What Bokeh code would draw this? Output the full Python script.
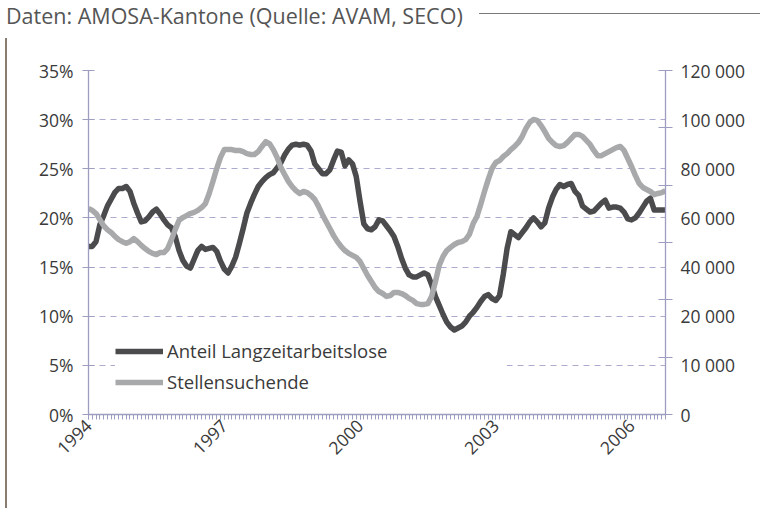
import math
from bokeh.plotting import figure
from bokeh.models import (Range1d, LinearAxis, FixedTicker, Legend, LegendItem, Div)
from bokeh.layouts import column, row
from bokeh.embed import file_html
from bokeh.resources import INLINE

# ---- data (monthly, Jan 1994 .. Oct 2006) ----
start_year = 1994
anteil_langzeit = [
    17.1, 17.1, 17.6, 19.3, 20.2, 21.2, 21.9, 22.6, 23.0, 23.0, 23.2, 22.7,
    21.5, 20.5, 19.6, 19.7, 20.1, 20.6, 20.9, 20.4, 19.8, 19.3, 19.0, 18.1,
    16.7, 15.7, 15.1, 14.9, 15.8, 16.7, 17.1, 16.8, 16.9, 17.0, 16.6, 15.6,
    14.8, 14.4, 15.1, 16.0, 17.4, 18.9, 20.5, 21.5, 22.4, 23.2, 23.7, 24.1,
    24.4, 24.6, 25.1, 25.6, 26.4, 27.0, 27.4, 27.5, 27.4, 27.5, 27.4, 26.8,
    25.5, 25.0, 24.5, 24.5, 24.9, 25.9, 26.8, 26.7, 25.3, 25.9, 25.5, 24.2,
    21.7, 19.4, 18.9, 18.8, 19.1, 19.8, 19.7, 19.2, 18.7, 18.1, 17.1, 15.9,
    14.9, 14.2, 14.0, 14.0, 14.2, 14.4, 14.2, 13.2, 12.0, 11.1, 10.2, 9.4,
    8.9, 8.6, 8.8, 9.0, 9.4, 10.0, 10.4, 10.9, 11.5, 12.0, 12.2, 11.8,
    11.6, 12.1, 14.3, 16.9, 18.6, 18.3, 18.0, 18.5, 19.0, 19.6, 20.0, 19.6,
    19.1, 19.5, 21.0, 22.1, 22.9, 23.4, 23.2, 23.4, 23.5, 22.7, 22.3, 21.2,
    20.9, 20.6, 20.7, 21.1, 21.5, 21.8, 21.0, 21.1, 21.1, 21.0, 20.6, 19.9,
    19.8, 20.0, 20.5, 21.1, 21.7, 22.0, 20.8, 20.8, 20.8, 20.8,
]
stellensuchende = [
    71900, 71200, 70100, 68000, 65900, 64500, 63500, 62100, 61000, 60300, 59700, 60300,
    61400, 60300, 59000, 57900, 56900, 56200, 55800, 56500, 56500, 57900, 61000, 64500,
    67700, 68700, 69400, 70100, 70500, 71200, 72200, 73600, 77100, 81300, 85800, 89700,
    92400, 92400, 92400, 92100, 92100, 91700, 91000, 90700, 90700, 91700, 93500, 95200,
    94500, 92400, 89700, 86200, 83700, 81300, 79500, 78100, 77100, 77800, 77400, 76400,
    75000, 72600, 69800, 67300, 64900, 62400, 60300, 58600, 57200, 56200, 55500, 54800,
    53400, 50900, 48500, 46400, 44300, 42900, 42200, 41200, 41500, 42600, 42600, 42200,
    41500, 40500, 39800, 38700, 38400, 38400, 38700, 41200, 46400, 52000, 55100, 57200,
    58300, 59300, 60000, 60300, 61000, 62800, 66600, 69100, 73300, 77800, 82000, 85800,
    87900, 88600, 90000, 91000, 92400, 93500, 94900, 97000, 99800, 101900, 102900, 102600,
    100800, 98700, 96300, 94900, 93800, 93500, 93800, 94900, 96300, 97700, 97700, 97000,
    95600, 94200, 92100, 90300, 90300, 91000, 91700, 92400, 93100, 93500, 92100, 89300,
    86500, 83400, 80600, 79200, 78500, 77800, 76700, 77100, 77400, 78100,
]
months = [start_year + i / 12 for i in range(len(anteil_langzeit))]

year_ticks = [1994, 1997, 2000, 2003, 2006]
pct_ticks = [0, 5, 10, 15, 20, 25, 30, 35]
right_labels = ["0", "10 000", "20 000", "40 000", "60 000", "80 000", "100 000", "120 000"]
right_tick_marks = [0, 20000, 40000, 60000, 80000, 100000, 120000]
series_names = ["Anteil Langzeitarbeitslose", "Stellensuchende"]
title_text = "Daten: AMOSA-Kantone (Quelle: AVAM, SECO)"

# ---- styles ----
FONT = "Open Sans"
TXT = "#3a3a3a"
AX = "#9d9dbf"
GRID = "#ababcf"
DARK = "#4b4b4d"
LIGHT = "#a8a9ab"
TICK_FS = "17.5px"

right_max = 120000
right_label_pos = [i * right_max / 7 for i in range(8)]

p = figure(width=753, height=477, output_backend="svg", toolbar_location=None,
           x_range=Range1d(months[0], months[-1]), y_range=Range1d(0, 35),
           min_border_left=76, min_border_right=100, min_border_top=37, min_border_bottom=96,
           x_axis_location=None, y_axis_location=None)
p.outline_line_color = None
p.background_fill_color = "white"
p.extra_y_ranges = {"right": Range1d(0, right_max)}

# left axis
yaxis = LinearAxis(ticker=FixedTicker(ticks=pct_ticks))
yaxis.major_label_overrides = {t: f"{t}%" for t in pct_ticks}
yaxis.axis_line_color = AX
yaxis.axis_line_width = 1.3
yaxis.major_tick_line_color = AX
yaxis.major_tick_in = 6
yaxis.major_tick_out = 6
yaxis.minor_tick_line_color = None
yaxis.major_label_text_font = FONT
yaxis.major_label_text_font_size = TICK_FS
yaxis.major_label_text_color = TXT
yaxis.major_label_standoff = 9
p.add_layout(yaxis, "left")

# right axis
raxis = LinearAxis(y_range_name="right",
                   ticker=FixedTicker(ticks=right_label_pos, minor_ticks=right_tick_marks))
raxis.major_label_overrides = {pos: lab for pos, lab in zip(right_label_pos, right_labels)}
raxis.axis_line_color = AX
raxis.axis_line_width = 1.3
raxis.major_tick_line_color = None
raxis.major_tick_in = 0
raxis.major_tick_out = 0
raxis.minor_tick_line_color = AX
raxis.minor_tick_in = 7
raxis.minor_tick_out = 7
raxis.major_label_text_font = FONT
raxis.major_label_text_font_size = TICK_FS
raxis.major_label_text_color = TXT
raxis.major_label_standoff = 8
p.add_layout(raxis, "right")

# bottom axis
xaxis = LinearAxis(ticker=FixedTicker(ticks=year_ticks, minor_ticks=months))
xaxis.major_label_overrides = {y: str(y) for y in year_ticks}
xaxis.axis_line_color = AX
xaxis.axis_line_width = 1.3
xaxis.major_tick_line_color = AX
xaxis.major_tick_in = 0
xaxis.major_tick_out = 5
xaxis.minor_tick_line_color = AX
xaxis.minor_tick_in = 0
xaxis.minor_tick_out = 5
xaxis.major_label_orientation = math.pi / 4
xaxis.major_label_text_font = FONT
xaxis.major_label_text_font_size = TICK_FS
xaxis.major_label_text_color = TXT
xaxis.major_label_standoff = 3
p.add_layout(xaxis, "below")

p.xgrid.visible = False
p.ygrid.ticker = FixedTicker(ticks=pct_ticks)
p.ygrid.grid_line_color = GRID
p.ygrid.grid_line_dash = "6 5"
p.ygrid.grid_line_width = 1

r1 = p.line(months, anteil_langzeit, line_color=DARK, line_width=5.5, line_join="round")
r2 = p.line(months, stellensuchende, y_range_name="right", line_color=LIGHT,
            line_width=5.5, line_join="round")

legend = Legend(items=[LegendItem(label=series_names[0], renderers=[r1]),
                       LegendItem(label=series_names[1], renderers=[r2])],
                location=(27, 20), orientation="vertical")
legend.background_fill_color = "white"
legend.background_fill_alpha = 1.0
legend.border_line_color = None
legend.padding = 5
legend.margin = 0
legend.spacing = 6
legend.glyph_width = 48
legend.glyph_height = 24
legend.label_standoff = 4
legend.label_width = 340
legend.label_text_font = FONT
legend.label_text_font_size = "18.5px"
legend.label_text_color = TXT
p.add_layout(legend, "center")

bar = Div(width=2, height=477, text="", styles={"background-color": "#8a7d70"})

header = Div(width=755, height=23, text=(
    '<div style="position:relative;width:755px;height:23px">'
    f'<span style="position:absolute;left:1px;top:0px;line-height:21px;white-space:nowrap;'
    f'font-family:\'Open Sans\';font-size:21.5px;color:#555">{title_text}</span>'
    '<div style="position:absolute;left:474px;width:281px;top:8px;'
    'border-top:1.5px solid #7a7a7a"></div></div>'))

layout = column(header, row(bar, p, spacing=0), spacing=0)

with open("out.html", "w") as f:
    f.write(file_html(layout, INLINE))
